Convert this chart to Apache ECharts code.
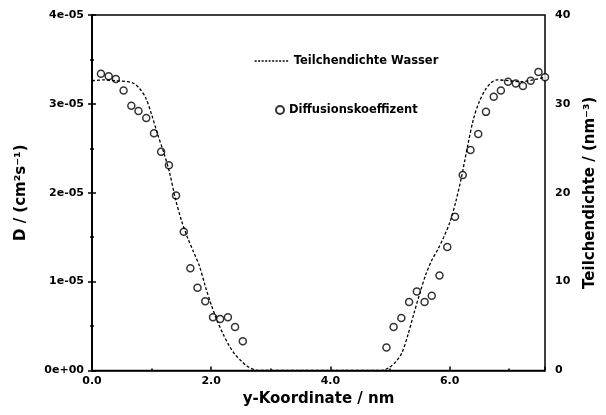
<!DOCTYPE html>
<html>
<head>
<meta charset="utf-8">
<script src="https://cdn.jsdelivr.net/npm/echarts@6/dist/echarts.min.js"></script>
<style>
  html, body { margin: 0; padding: 0; background: #fff; }
  #chart { width: 606px; height: 415px; }
</style>
</head>
<body>
<div id="chart"></div>
<script>
// Water particle density profile across the slab (right axis, nm^-3)
const densityX = [0.0, 0.2, 0.4, 0.6, 0.7, 0.8, 0.9, 1.0, 1.1, 1.2, 1.3, 1.4, 1.5, 1.6, 1.7, 1.8, 1.9, 2.0,
                  2.1, 2.2, 2.3, 2.4, 2.5, 2.6, 2.7, 2.8, 3.5, 4.2, 4.8, 4.9, 5.0, 5.1, 5.2, 5.3, 5.4, 5.5,
                  5.6, 5.7, 5.8, 5.9, 6.0, 6.1, 6.2, 6.3, 6.4, 6.5, 6.6, 6.7, 6.8, 7.0, 7.2, 7.4, 7.6];
const densityY = [32.6, 32.7, 32.6, 32.5, 32.3, 31.7, 30.7, 28.8, 26.6, 24.6, 22.3, 19.3, 16.9, 15.0, 13.4, 11.8, 9.5, 7.4,
                  5.6, 4.1, 2.8, 1.8, 1.1, 0.5, 0.15, 0.0, 0.0, 0.0, 0.0, 0.05, 0.4, 1.0, 2.0, 4.0, 6.4, 8.7,
                  10.8, 12.4, 13.6, 15.0, 16.6, 18.9, 21.8, 25.2, 28.3, 30.3, 31.6, 32.4, 32.7, 32.6, 32.5, 32.7, 33.0];

// Diffusion coefficient samples (left axis, cm^2 s^-1)
const diffX = [0.15, 0.28, 0.40, 0.53, 0.66, 0.78, 0.91, 1.04, 1.16, 1.29, 1.41, 1.54, 1.65, 1.77, 1.90, 2.03, 2.15, 2.28, 2.40, 2.53,
               4.94, 5.06, 5.19, 5.32, 5.45, 5.58, 5.70, 5.83, 5.96, 6.09, 6.22, 6.35, 6.48, 6.61, 6.74, 6.86, 6.98, 7.11,
               7.23, 7.36, 7.49, 7.60];
const diffD = [3.34e-5, 3.31e-5, 3.28e-5, 3.15e-5, 2.98e-5, 2.92e-5, 2.84e-5, 2.67e-5, 2.46e-5, 2.31e-5, 1.97e-5, 1.56e-5,
               1.15e-5, 0.93e-5, 0.78e-5, 0.60e-5, 0.58e-5, 0.60e-5, 0.49e-5, 0.33e-5,
               0.26e-5, 0.49e-5, 0.59e-5, 0.77e-5, 0.89e-5, 0.77e-5, 0.84e-5, 1.07e-5, 1.39e-5, 1.73e-5, 2.20e-5, 2.48e-5,
               2.66e-5, 2.91e-5, 3.08e-5, 3.15e-5, 3.25e-5, 3.23e-5, 3.20e-5, 3.26e-5, 3.36e-5, 3.30e-5];

// Axis tick labels
const xTickValues = [0, 2, 4, 6];
const xTickLabels = ['0.0', '2.0', '4.0', '6.0'];
const leftTickLabels = ['0e+00', '1e-05', '2e-05', '3e-05', '4e-05'];
const rightTickLabels = ['0', '10', '20', '30', '40'];

const FONT = "'DejaVu Sans', sans-serif";
const tickFont = { color: '#000', fontFamily: FONT, fontWeight: 'bold', fontSize: 11 };
const titleFont = { color: '#000', fontFamily: FONT, fontWeight: 'bold', fontSize: 15 };
const axisLine = { show: true, lineStyle: { color: '#000', width: 1.5 } };

const chart = echarts.init(document.getElementById('chart'), null, { renderer: 'canvas' });

chart.setOption({
  backgroundColor: '#fff',
  animation: false,
  grid: {
    left: 92, right: 59.5, top: 15, bottom: 44.5,
    show: true, borderColor: '#000', borderWidth: 1.5, backgroundColor: 'transparent'
  },
  legend: [
    {
      data: [{ name: 'Teilchendichte Wasser', itemStyle: { opacity: 0 } }],
      left: 254, top: 55, padding: 0,
      itemWidth: 34, itemHeight: 14,
      itemStyle: { opacity: 0 },
      lineStyle: { color: '#000', width: 1.3, type: [2, 1.5] },
      textStyle: { color: '#000', fontFamily: FONT, fontWeight: 'bold', fontSize: 11.5 }
    },
    {
      data: ['Diffusionskoeffizent'],
      left: 275, top: 104, padding: 0,
      itemWidth: 8, itemHeight: 8,
      textStyle: { color: '#000', fontFamily: FONT, fontWeight: 'bold', fontSize: 11.5 }
    }
  ],
  xAxis: [
    {
      type: 'value', min: 0, max: 7.6, interval: 2, position: 'bottom',
      name: 'y-Koordinate / nm', nameLocation: 'middle', nameGap: 21, nameTextStyle: titleFont,
      axisLine: axisLine,
      axisTick: { show: true, inside: true, length: 4, lineStyle: { color: '#000', width: 1.5 } },
      axisLabel: {
        ...tickFont, margin: 5,
        formatter: v => { const i = xTickValues.indexOf(Math.round(v * 10) / 10); return i >= 0 ? xTickLabels[i] : ''; }
      },
      splitLine: { show: false }
    },
    {
      // unit-spaced minor ticks along the bottom edge
      type: 'value', min: 0, max: 7.6, interval: 1, position: 'bottom',
      axisLine: { show: false },
      axisTick: { show: true, inside: true, length: 2, lineStyle: { color: '#000', width: 1.5 } },
      axisLabel: { show: false },
      splitLine: { show: false }
    }
  ],
  yAxis: [
    {
      type: 'value', min: 0, max: 4e-5, interval: 1e-5, position: 'left',
      name: 'D / (cm²s⁻¹)', nameLocation: 'middle', nameGap: 63, nameTextStyle: titleFont,
      axisLine: axisLine,
      axisTick: { show: true, inside: true, length: 4, lineStyle: { color: '#000', width: 1.5 } },
      minorTick: { show: true, splitNumber: 2, length: 2, lineStyle: { color: '#000', width: 1.5 } },
      axisLabel: { ...tickFont, margin: 8, formatter: (v, i) => leftTickLabels[i] },
      splitLine: { show: false }
    },
    {
      type: 'value', min: 0, max: 40, interval: 10, position: 'right',
      name: 'Teilchendichte / (nm⁻³)', nameLocation: 'middle', nameGap: 38, nameTextStyle: titleFont,
      axisLine: axisLine,
      axisTick: { show: true, inside: true, length: 4, lineStyle: { color: '#000', width: 1.5 } },
      minorTick: { show: true, splitNumber: 2, length: 2, lineStyle: { color: '#000', width: 1.5 } },
      axisLabel: { ...tickFont, margin: 10, formatter: (v, i) => rightTickLabels[i] },
      splitLine: { show: false }
    }
  ],
  series: [
    {
      name: 'Teilchendichte Wasser',
      type: 'line',
      xAxisIndex: 0, yAxisIndex: 1,
      data: densityX.map((x, i) => [x, densityY[i]]),
      symbol: 'none',
      smooth: 0.3,
      lineStyle: { color: '#000', width: 1.3, type: [3, 2] },
      itemStyle: { color: '#000' }
    },
    {
      name: 'Diffusionskoeffizent',
      type: 'scatter',
      xAxisIndex: 0, yAxisIndex: 0,
      data: diffX.map((x, i) => [x, diffD[i]]),
      symbol: 'circle',
      symbolSize: 7,
      clip: false,
      itemStyle: { color: '#fff', borderColor: '#000', borderWidth: 1.5 }
    }
  ]
});
</script>
</body>
</html>
